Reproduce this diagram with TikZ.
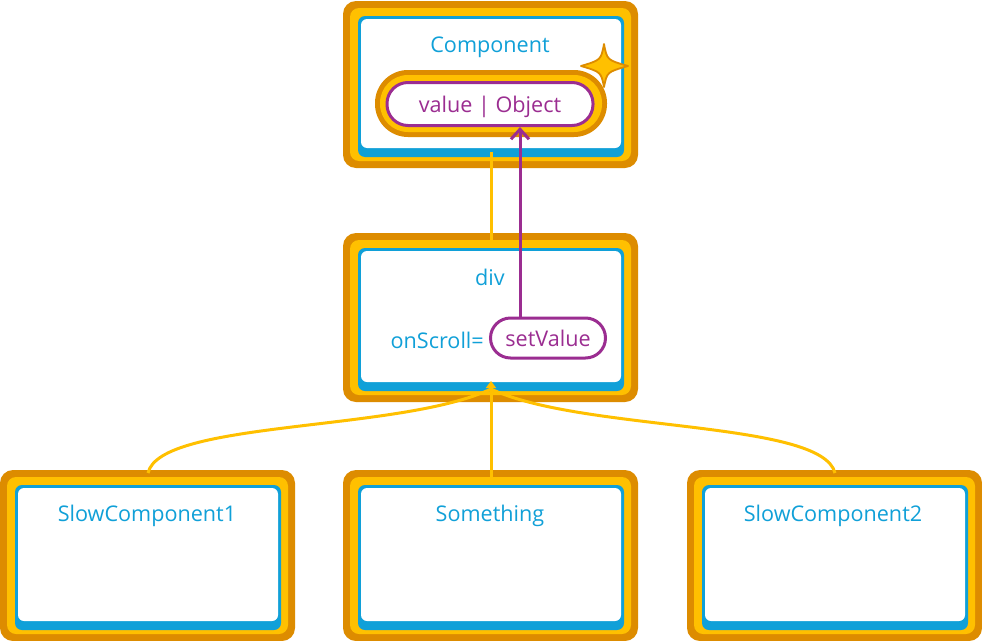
\documentclass[tikz,border=0pt]{standalone}
\usepackage{fontspec}
\setmainfont{Open Sans}
\usetikzlibrary{arrows.meta}
\definecolor{darkor}{RGB}{221,140,0}
\definecolor{yel}{RGB}{255,192,0}
\definecolor{blu}{RGB}{16,160,216}
\definecolor{purp}{RGB}{155,45,145}
\newcommand\layerbox[4]{%
  \fill[darkor, rounded corners=13pt] (#1,#2) rectangle (#3,#4);
  \fill[yel, rounded corners=9pt] (#1+7,#2+7) rectangle (#3-7,#4-7);
  \fill[blu, rounded corners=7pt] (#1+15,#2+15) rectangle (#3-14,#4-11);
  \fill[white, rounded corners=6pt] (#1+18,#2+18) rectangle (#3-17,#4-20);
}
\begin{document}
\begin{tikzpicture}[x=1pt,y=-1pt,
  lbl/.style={text=blu, font=\fontsize{21.6}{26}\selectfont, inner sep=0pt},
  pill/.style={draw=purp, line width=3pt, fill=white, text=purp,
    font=\fontsize{21.6}{26}\selectfont, inner sep=0pt},
  conn/.style={draw=yel, line width=3pt},
  parrow/.style={draw=purp, line width=3pt, -{Straight Barb[length=10pt,width=18pt,line width=3pt]}},
  yarrow/.style={draw=yel, line width=3pt, -{Triangle[length=7pt,width=10pt]}},
  startype/.style={fill=yel, draw=darkor, line width=1.8pt, line join=round}]
\useasboundingbox (0,0) rectangle (982,640);
\fill[white] (0,0) rectangle (982,640);
% boxes
\layerbox{343}{1}{638}{168}
\layerbox{343}{233}{638}{402}
\layerbox{0}{470}{295}{641}
\layerbox{343}{470}{638}{641}
\layerbox{687}{470}{982}{641}
% labels
\node[lbl] (comp) at (490,47) {Component};
\node[lbl] (div) at (490,277) {div};
\node[lbl] (slow1) at (147,516) {SlowComponent1};
\node[lbl] (some) at (490,516) {Something};
\node[lbl] (slow2) at (833,516) {SlowComponent2};
\node[lbl, anchor=east] (onscroll) at (484,340) {onScroll=};
% value pill halo
\fill[darkor, rounded corners=33pt] (375,70) rectangle (607,137);
\fill[yel, rounded corners=28pt] (380,75) rectangle (602,132);
\node[pill, minimum width=206pt, minimum height=43pt, rounded corners=21pt,
  text height=17pt, text depth=1pt] (val) at (490,104) {value | Object};
\node[pill, minimum width=115pt, minimum height=40pt, rounded corners=20pt,
  text height=17pt, text depth=1pt] (setv) at (548,338) {setValue};
% star
\coordinate (star) at (604,66);
\path[startype] (604,44) .. controls (607,60) .. (628,66)
  .. controls (607,72) .. (604,87)
  .. controls (601,72) .. (581,66)
  .. controls (601,60) .. cycle;
% connectors
\coordinate (topB) at (491,152);
\coordinate (divT) at (491,245);
\coordinate (divB) at (491,381);
\coordinate (divS) at (491,389);
\coordinate (s1T) at (148,473);
\coordinate (smT) at (491,483);
\coordinate (s2T) at (835,473);
\coordinate (ax) at (520,0);
\draw[conn] (topB) -- (divT);
\draw[parrow] (setv.north -| ax) -- (val.south -| ax);
\draw[yarrow] (smT) -- (divB);
\draw[conn] (divS) .. controls (400,432) and (160,420) .. (s1T);
\draw[conn] (divS) .. controls (582,432) and (822,420) .. (s2T);
\end{tikzpicture}
\end{document}
